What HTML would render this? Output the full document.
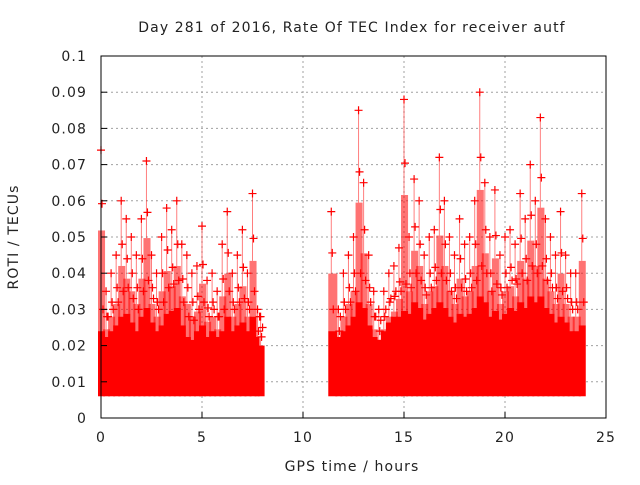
<!DOCTYPE html>
<html><head><meta charset="utf-8"><style>
body{margin:0;background:#fff;}
svg text{font-family:"DejaVu Sans","Liberation Sans",sans-serif;font-size:14px;letter-spacing:1.1px;fill:#222;}
</style></head><body>
<svg id="c" width="640" height="480">
<text x="352" y="32" text-anchor="middle">Day 281 of 2016, Rate Of TEC Index for receiver autf</text>
<text x="352" y="471" text-anchor="middle">GPS time / hours</text>
<text transform="translate(18,237) rotate(-90)" text-anchor="middle">ROTI / TECUs</text>
<g id="grid"></g><g id="marks"></g><g id="axes"></g>
</svg>
<script>
const times1=[0,0.25,0.5,0.75,1,1.25,1.5,1.75,2,2.25,2.5,2.75,3,3.25,3.5,3.75,4,4.25,4.5,4.75,5,5.25,5.5,5.75,6,6.25,6.5,6.75,7,7.25,7.5,7.75,7.9];
const peak1=[0.074,0.035,0.04,0.045,0.06,0.055,0.05,0.045,0.055,0.071,0.045,0.04,0.05,0.058,0.052,0.06,0.048,0.045,0.04,0.042,0.053,0.038,0.04,0.035,0.048,0.057,0.04,0.045,0.052,0.04,0.062,0.03,0.028];
const hi1=[0.03,0.028,0.03,0.032,0.035,0.036,0.033,0.03,0.035,0.038,0.033,0.03,0.032,0.036,0.037,0.038,0.032,0.028,0.027,0.03,0.032,0.028,0.03,0.028,0.03,0.035,0.03,0.032,0.033,0.03,0.035,0.028,0.025];
const times2=[11.4,11.75,12,12.25,12.5,12.75,13,13.25,13.5,13.75,14,14.25,14.5,14.75,15,15.25,15.5,15.75,16,16.25,16.5,16.75,17,17.25,17.5,17.75,18,18.25,18.5,18.75,19,19.25,19.5,19.75,20,20.25,20.5,20.75,21,21.25,21.5,21.75,22,22.25,22.5,22.75,23,23.25,23.5,23.8];
const peak2=[0.057,0.03,0.04,0.045,0.05,0.085,0.065,0.045,0.035,0.03,0.035,0.04,0.042,0.047,0.088,0.05,0.066,0.06,0.045,0.05,0.052,0.072,0.06,0.05,0.045,0.055,0.048,0.05,0.06,0.09,0.065,0.05,0.063,0.045,0.05,0.052,0.048,0.062,0.055,0.07,0.06,0.083,0.055,0.05,0.045,0.057,0.045,0.04,0.04,0.062];
const hi2=[0.03,0.028,0.03,0.032,0.035,0.04,0.038,0.032,0.028,0.027,0.03,0.033,0.035,0.035,0.037,0.036,0.04,0.038,0.034,0.036,0.038,0.04,0.038,0.035,0.033,0.036,0.035,0.036,0.038,0.042,0.04,0.035,0.037,0.034,0.036,0.038,0.037,0.04,0.038,0.042,0.04,0.042,0.038,0.036,0.033,0.035,0.033,0.03,0.03,0.032];
const loVal=0.006;
const xTicks=[0,5,10,15,20,25];
const yTicks=[0,0.01,0.02,0.03,0.04,0.05,0.06,0.07,0.08,0.09,0.1];
const yTickLabels=["0","0.01","0.02","0.03","0.04","0.05","0.06","0.07","0.08","0.09","0.1"];
const L=101,R=606,T=56,B=418;
const X=v=>L+(v/25)*(R-L), Y=v=>B-(v/0.1)*(B-T);
const NS="http://www.w3.org/2000/svg";
function mk(tag,attrs,parent){const e=document.createElementNS(NS,tag);for(const k in attrs)e.setAttribute(k,attrs[k]);parent.appendChild(e);return e;}
const grid=document.getElementById('grid'),marks=document.getElementById('marks'),axes=document.getElementById('axes');
xTicks.forEach((t,i)=>{
 if(i>0&&i<xTicks.length-1){const g=mk('line',{x1:X(t),x2:X(t),y1:T,y2:B,stroke:'#a0a0a0','stroke-dasharray':'2,3'},grid);
 }
 const tk=mk('line',{x1:X(t),x2:X(t),y1:B,y2:B-6,stroke:'#000'},axes);
 
 const tx=mk('text',{x:X(t),y:B+24,'text-anchor':'middle'},axes);tx.textContent=t;
 
});
yTicks.forEach((t,i)=>{
 if(i>0&&i<yTicks.length-1){const g=mk('line',{x1:L,x2:R,y1:Y(t),y2:Y(t),stroke:'#a0a0a0','stroke-dasharray':'2,3'},grid);
 }
 const tk=mk('line',{x1:L,x2:L+6,y1:Y(t),y2:Y(t),stroke:'#000'},axes);
 
 const tx=mk('text',{x:L-14,y:Y(t)+5,'text-anchor':'end'},axes);tx.textContent=yTickLabels[i];
 
});
const fr=mk('rect',{x:L,y:T,width:R-L,height:B-T,fill:'none',stroke:'#000'},axes);

function plus(x,y,c){const p=mk('path',{d:`M${x-4},${y}h8M${x},${y-4}v8`,stroke:c,'stroke-width':1.2,fill:'none'},marks);
 }
function drawSeg(times,hi,peak){
 for(let i=0;i<times.length;i++){
  const x=X(times[i]);
  const w=(i<times.length-1?X(times[i+1])-x:5)+2;
  const sc=mk('rect',{x:x-3,y:Y(peak[i]*0.7),width:w,height:Y(hi[i]*0.8)-Y(peak[i]*0.7),fill:'#ff0000',opacity:0.55},marks);
  
  const b=mk('rect',{x:x-3,y:Y(hi[i]*0.8),width:w,height:Y(loVal)-Y(hi[i]*0.8),fill:'#ff0000'},marks);
  
  const ln=mk('line',{x1:x,x2:x,y1:Y(peak[i]),y2:Y(peak[i]*0.7),stroke:'#ff0000','stroke-width':1,opacity:0.5},marks);
  
  plus(x,Y(peak[i]),'#ff0000');plus(x+2,Y(hi[i]),'#ff0000');plus(x+1,Y(peak[i]*0.8),'#ff0000');
 }
}
drawSeg(times1,hi1,peak1);drawSeg(times2,hi2,peak2);
</script>
</body></html>
